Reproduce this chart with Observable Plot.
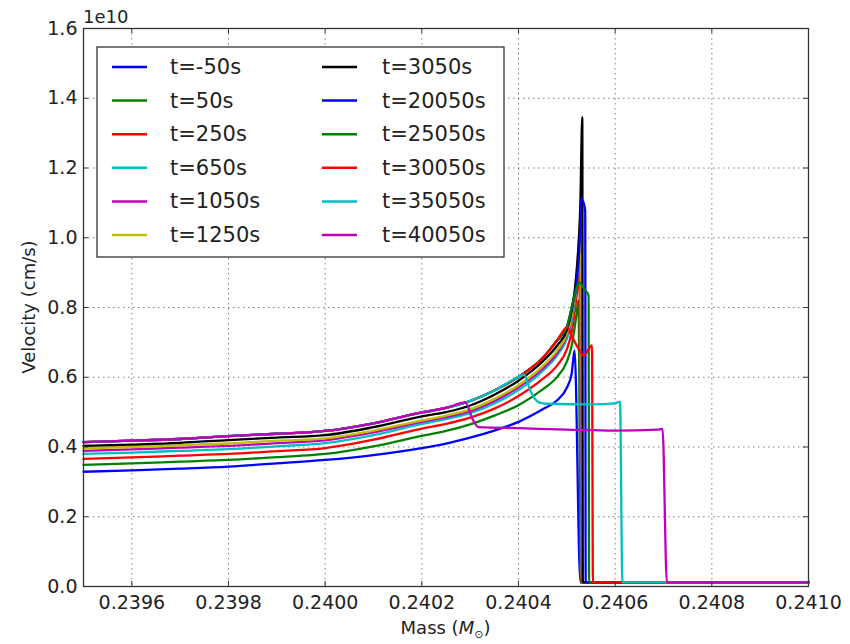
<!DOCTYPE html>
<html>
<head>
<meta charset="utf-8">
<script src="https://cdn.jsdelivr.net/npm/d3@7"></script>
<script src="https://cdn.jsdelivr.net/npm/@observablehq/plot@0.6"></script>
<style>
  html, body { margin: 0; padding: 0; background: #fff; }
  #chart { width: 850px; height: 644px; }
</style>
</head>
<body>
<div id="chart"></div>
<script>
// Velocity values are in units of 1e10 cm/s (matplotlib offset text "1e10").
const labels = ["t=-50s", "t=50s", "t=250s", "t=650s", "t=1050s", "t=1250s",
                "t=3050s", "t=20050s", "t=25050s", "t=30050s", "t=35050s", "t=40050s"];
const colors = ["#0000ff", "#008000", "#ff0000", "#00bfbf", "#bf00bf", "#bfbf00",
                "#000000", "#0000ff", "#008000", "#ff0000", "#00bfbf", "#bf00bf"];

const xTicks = [0.2396, 0.2398, 0.2400, 0.2402, 0.2404, 0.2406, 0.2408, 0.2410];
const yTicks = [0.0, 0.2, 0.4, 0.6, 0.8, 1.0, 1.2, 1.4, 1.6];

// [mass (Msun), velocity (1e10 cm/s)]
const s_m50 = [[0.2395,0.329],[0.2396,0.333],[0.2397,0.338],[0.2398,0.344],[0.2399,0.353],[0.2400,0.363],
  [0.2401,0.377],[0.2402,0.397],[0.24025,0.410],[0.2403,0.427],[0.24035,0.447],[0.2404,0.472],
  [0.24045,0.508],[0.24048,0.534],[0.2405,0.570],[0.24051,0.610],[0.240516,0.677],[0.240528,0.012],[0.2410,0.012]];
const s_50 = [[0.2395,0.349],[0.2396,0.353],[0.2397,0.358],[0.2398,0.363],[0.2399,0.371],[0.2400,0.380],
  [0.2401,0.402],[0.2402,0.432],[0.24025,0.446],[0.2403,0.465],[0.24035,0.490],[0.2404,0.520],[0.24045,0.565],
  [0.24048,0.601],[0.2405,0.645],[0.24051,0.690],[0.24052,0.780],[0.240524,0.820],[0.240529,0.012],[0.2410,0.012]];
const s_250 = [[0.2395,0.366],[0.2396,0.370],[0.2397,0.375],[0.2398,0.380],[0.2399,0.388],[0.2400,0.397],
  [0.2401,0.421],[0.2402,0.453],[0.24025,0.466],[0.2403,0.484],[0.24035,0.510],[0.2404,0.546],[0.24045,0.595],
  [0.24048,0.634],[0.2405,0.680],[0.24051,0.730],[0.24052,0.830],[0.240526,0.900],[0.24053,0.012],[0.2410,0.012]];
const s_650 = [[0.2395,0.380],[0.2396,0.384],[0.2397,0.389],[0.2398,0.394],[0.2399,0.402],[0.2400,0.411],
  [0.2401,0.434],[0.2402,0.466],[0.24025,0.480],[0.2403,0.497],[0.24035,0.525],[0.2404,0.563],[0.24045,0.618],
  [0.24048,0.663],[0.2405,0.710],[0.24051,0.760],[0.24052,0.860],[0.240527,0.980],[0.240531,0.012],[0.2410,0.012]];
const s_1050 = [[0.2395,0.389],[0.2396,0.393],[0.2397,0.398],[0.2398,0.403],[0.2399,0.411],[0.2400,0.419],
  [0.2401,0.442],[0.2402,0.472],[0.24025,0.486],[0.2403,0.503],[0.24035,0.532],[0.2404,0.571],[0.24045,0.625],
  [0.24048,0.670],[0.2405,0.720],[0.24051,0.770],[0.24052,0.880],[0.240528,1.020],[0.240532,0.012],[0.2410,0.012]];
const s_1250 = [[0.2395,0.396],[0.2396,0.400],[0.2397,0.405],[0.2398,0.410],[0.2399,0.418],[0.2400,0.425],
  [0.2401,0.447],[0.2402,0.476],[0.24025,0.490],[0.2403,0.508],[0.24035,0.538],[0.2404,0.577],[0.24045,0.632],
  [0.24048,0.677],[0.2405,0.725],[0.24051,0.775],[0.24052,0.890],[0.240529,1.060],[0.240533,0.012],[0.2410,0.012]];
const s_3050 = [[0.2395,0.403],[0.2396,0.407],[0.2397,0.412],[0.2398,0.420],[0.2399,0.427],[0.2400,0.434],
  [0.2401,0.457],[0.2402,0.488],[0.24025,0.500],[0.2403,0.519],[0.24035,0.550],[0.2404,0.590],[0.24045,0.645],
  [0.24048,0.691],[0.2405,0.735],[0.24051,0.790],[0.24052,0.900],[0.240528,1.100],[0.240532,1.346],[0.240533,0.012],[0.2410,0.012]];
const s_20050 = [[0.2395,0.414],[0.2396,0.418],[0.2397,0.423],[0.2398,0.431],[0.2399,0.438],[0.2400,0.446],
  [0.2401,0.468],[0.2402,0.499],[0.24025,0.512],[0.2403,0.532],[0.24035,0.562],[0.2404,0.601],[0.24045,0.655],
  [0.24048,0.706],[0.2405,0.744],[0.24051,0.800],[0.24052,0.870],[0.240527,1.000],[0.24053,1.113],
  [0.240538,1.078],[0.240539,0.012],[0.2410,0.012]];
const s_25050 = [[0.2395,0.414],[0.2396,0.418],[0.2397,0.423],[0.2398,0.431],[0.2399,0.438],[0.2400,0.446],
  [0.2401,0.468],[0.2402,0.499],[0.24025,0.512],[0.2403,0.532],[0.24035,0.562],[0.2404,0.601],[0.24045,0.655],
  [0.24048,0.706],[0.2405,0.744],[0.24051,0.800],[0.24052,0.855],[0.240525,0.873],[0.240535,0.855],
  [0.240545,0.834],[0.240546,0.012],[0.2410,0.012]];
const s_30050 = [[0.2395,0.414],[0.2396,0.418],[0.2397,0.423],[0.2398,0.431],[0.2399,0.438],[0.2400,0.446],
  [0.2401,0.468],[0.2402,0.499],[0.24025,0.512],[0.2403,0.532],[0.24035,0.562],[0.2404,0.601],[0.24045,0.655],
  [0.24048,0.706],[0.240501,0.744],[0.240511,0.715],[0.240523,0.685],[0.240535,0.662],[0.240552,0.691],
  [0.240554,0.012],[0.2410,0.012]];
const s_35050 = [[0.2395,0.414],[0.2396,0.418],[0.2397,0.423],[0.2398,0.431],[0.2399,0.438],[0.2400,0.446],
  [0.2401,0.468],[0.2402,0.499],[0.24025,0.512],[0.2403,0.532],[0.24035,0.562],[0.2404,0.601],[0.240411,0.608],
  [0.240425,0.560],[0.240442,0.528],[0.24046,0.524],[0.24055,0.522],[0.2406,0.525],[0.24061,0.530],
  [0.240615,0.012],[0.2410,0.012]];
const s_40050 = [[0.2395,0.414],[0.2396,0.418],[0.2397,0.423],[0.2398,0.431],[0.2399,0.438],[0.2400,0.446],
  [0.2401,0.468],[0.2402,0.499],[0.24025,0.512],[0.24029,0.528],[0.240305,0.480],[0.240317,0.457],
  [0.24040,0.454],[0.24050,0.450],[0.24060,0.447],[0.24069,0.450],[0.240698,0.452],[0.240707,0.012],[0.2410,0.012]];

const seriesData = [s_m50, s_50, s_250, s_650, s_1050, s_1250, s_3050, s_20050, s_25050, s_30050, s_35050, s_40050];

const lineMarks = seriesData.map((s, i) =>
  Plot.line(s, {x: d => d[0], y: d => d[1], stroke: colors[i], strokeWidth: 2.3,
                curve: "monotone-x"}));

const W = 850, H = 644, ML = 83, MR = 42, MT = 28, MB = 58;
const PW = W - ML - MR, PH = H - MT - MB;
const tickLen = 5;

const plot = Plot.plot({
  width: W, height: H,
  marginLeft: ML, marginRight: MR, marginTop: MT, marginBottom: MB,
  x: {domain: [0.2395, 0.2410]},
  y: {domain: [0, 1.6]},
  style: {fontFamily: "DejaVu Sans", fontSize: "18px", color: "#222", background: "white", overflow: "visible"},
  marks: [
    Plot.gridX(xTicks, {stroke: "#000", strokeOpacity: 0.5, strokeWidth: 1, strokeDasharray: "1.5,3.5"}),
    Plot.gridY(yTicks, {stroke: "#000", strokeOpacity: 0.5, strokeWidth: 1, strokeDasharray: "1.5,3.5"}),
    ...lineMarks,
    Plot.frame({stroke: "#333", strokeWidth: 1.3}),
    Plot.tickX(xTicks, {x: d => d, insetTop: PH - tickLen, stroke: "#333"}),
    Plot.tickX(xTicks, {x: d => d, insetBottom: PH - tickLen, stroke: "#333"}),
    Plot.tickY(yTicks, {y: d => d, insetRight: PW - tickLen, stroke: "#333"}),
    Plot.tickY(yTicks, {y: d => d, insetLeft: PW - tickLen, stroke: "#333"}),
    Plot.axisX(xTicks, {tickSize: 0, tickPadding: 9, tickFormat: d3.format(".4f"), label: null, fontSize: 19}),
    Plot.axisY(yTicks, {tickSize: 0, tickPadding: 6, tickFormat: d3.format(".1f"), label: null, fontSize: 19})
  ]
});

const svg = d3.select(plot);

// offset text
svg.append("text").attr("x", ML).attr("y", 23).attr("text-anchor", "start")
  .attr("font-size", 18).attr("fill", "#222").text("1e10");

// y label
svg.append("text")
  .attr("transform", `translate(28,${MT + PH / 2}) rotate(-90)`)
  .attr("text-anchor", "middle").attr("dominant-baseline", "central")
  .attr("font-size", 18).attr("fill", "#222").text("Velocity (cm/s)");

// x label
const xl = svg.append("text")
  .attr("x", ML + PW / 2).attr("y", 634)
  .attr("text-anchor", "middle").attr("font-size", 18).attr("fill", "#222");
xl.append("tspan").text("Mass (");
xl.append("tspan").attr("font-style", "italic").text("M");
xl.append("tspan").attr("font-size", 11).attr("dy", 4).text("⊙");
xl.append("tspan").attr("dy", -4).text(")");

// legend
const lg = svg.append("g").attr("text-anchor", "start");
lg.append("rect").attr("x", 97).attr("y", 47).attr("width", 407).attr("height", 210)
  .attr("fill", "white").attr("stroke", "#333").attr("stroke-width", 1.3);
labels.forEach((lab, i) => {
  const col = Math.floor(i / 6), row = i % 6;
  const x0 = col === 0 ? 112 : 322;
  const tx = col === 0 ? 170 : 382;
  const yy = 67 + row * 33.6;
  lg.append("line").attr("x1", x0).attr("x2", x0 + 35).attr("y1", yy).attr("y2", yy)
    .attr("stroke", colors[i]).attr("stroke-width", 2.5);
  lg.append("text").attr("x", tx).attr("y", yy).attr("dominant-baseline", "central")
    .attr("text-anchor", "start")
    .attr("font-size", 21).attr("fill", "#222").text(lab);
});

document.getElementById("chart").appendChild(plot);
</script>
</body>
</html>
